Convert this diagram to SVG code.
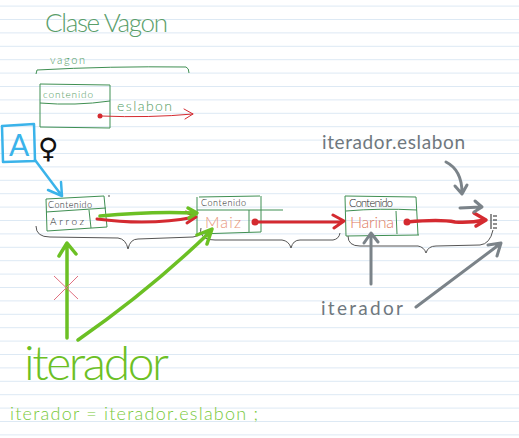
<svg xmlns="http://www.w3.org/2000/svg" width="519" height="438" viewBox="0 0 519 438">
<style>
.ln{stroke:#dde9f4;stroke-width:1}
.t{font-family:"Lato","Open Sans","Liberation Sans",Arial,sans-serif;font-weight:300}
.gb{fill:none;stroke:#3f8f52;stroke-width:1}
.red{fill:none;stroke:#d42a30;stroke-linecap:round;stroke-linejoin:round}
.blue{fill:none;stroke:#3ab3ea;stroke-width:2.5;stroke-linecap:round;stroke-linejoin:round}
.gray{fill:none;stroke:#7b8389;stroke-width:3;stroke-linecap:round;stroke-linejoin:round}
.lg{fill:none;stroke:#6cc024;stroke-width:3.5;stroke-linecap:round;stroke-linejoin:round}
.br{fill:none;stroke:#555;stroke-width:1}
</style>
<rect width="519" height="438" fill="#ffffff"/>
<g id="paper">
<path class="ln" d="M0,6.1H519M0,19.5H519M0,32.9H519M0,46.3H519M0,59.7H519M0,73.1H519M0,86.5H519M0,99.9H519M0,113.3H519M0,126.7H519M0,140.1H519M0,153.5H519M0,166.9H519M0,180.3H519M0,193.7H519M0,207.1H519M0,220.5H519M0,233.9H519M0,247.3H519M0,260.7H519M0,274.1H519M0,287.5H519M0,300.9H519M0,314.3H519M0,327.7H519M0,341.1H519M0,354.5H519M0,367.9H519M0,381.3H519M0,394.7H519M0,408.1H519M0,421.5H519M0,434.9H519"/>
</g>
<g id="title">
<text class="t" x="45" y="32" font-size="26" fill="#5a9e6a" textLength="123" lengthAdjust="spacing">Clase Vagon</text>
</g>
<g id="clase-vagon">
<text class="t" x="50" y="64" font-size="11" fill="#4f9a60" textLength="35" lengthAdjust="spacing">vagon</text>
<path class="gb" d="M36,74 L37,70 Q110,66 186,67 Q189,68 189,73"/>
<path class="gb" d="M40,84 L110,85 L110,128 L40,127 Z"/>
<path class="gb" d="M40,103 Q75,106 110,101"/>
<text class="t" x="43" y="98" font-size="10" fill="#4f9a60" textLength="50" lengthAdjust="spacing">contenido</text>
<text class="t" x="117" y="111" font-size="14" fill="#4f9a60" textLength="55" lengthAdjust="spacing">eslabon</text>
</g>
<g id="A">
<path class="blue" d="M2,126 L34,124 L35,161 L3,162 Z"/>
<text class="t" x="9" y="156" font-size="30" fill="#3ab3ea" style="font-weight:400">A</text>
<text x="38" y="158" font-size="28" fill="#111" font-family="'DejaVu Sans',sans-serif">♀</text>
</g>
<g id="nodo-arroz">
<path class="gb" d="M46,199 L104,196 L107,227 L47,231 Z"/>
<path class="gb" d="M46,212 L106,208 M89,210 L91,228"/>
<circle cx="109" cy="196" r="0.8" fill="#333"/>
<text class="t" x="48" y="208" font-size="9" fill="#222" textLength="44" lengthAdjust="spacing">Contenido</text>
<text class="t" x="50" y="225" font-size="10" fill="#222" textLength="34" lengthAdjust="spacing">Arroz</text>
</g>
<g id="nodo-maiz">
<path class="gb" d="M199,197 L260,196 M197,210 L283,210 M197,197 L197,234 L261,232 M261,196 L261,232 M249,210 L249,232"/>
<text class="t" x="201" y="206" font-size="9" fill="#222" textLength="45" lengthAdjust="spacing">Contenido</text>
<text class="t" x="205" y="228" font-size="16" fill="#e8967a" textLength="36" lengthAdjust="spacing">Maiz</text>
</g>
<g id="nodo-harina">
<path class="gb" d="M345,196 L416,197 M346,211 Q380,208 417,210 M345,196 L346,236 L419,235 M416,197 L418,235 M396,211 L397,234"/>
<text class="t" x="349" y="207" font-size="11" fill="#222" textLength="44" lengthAdjust="spacing">Contenido</text>
<text class="t" x="350" y="228" font-size="16" fill="#e07a5f" textLength="44" lengthAdjust="spacing">Harina</text>
</g>
<g id="null">
<path fill="none" stroke="#222" stroke-width="1" d="M491,214 L491,229 M493,216 L497,216 M493,220 L497,220 M493,224 L497,224 M493,228 L497,228"/>
</g>
<g id="braces">
<path class="br" d="M36,226 Q36,237 50,237 L118,238 Q126,239 128,249 Q130,239 138,239 L193,237 Q201,236 201,228"/>
<path class="br" d="M201,233 Q203,240 215,240 L282,240 Q289,241 291,248 Q293,240 300,240 L333,240 Q339,239 340,233"/>
<path class="br" d="M348,236 Q348,246 360,246 L418,246 Q424,247 426,253 Q428,246 436,246 L480,245 Q490,244 493,230"/>
</g>
<g id="labels">
<text class="t" x="322" y="149" font-size="19" fill="#6f787e" textLength="143" lengthAdjust="spacing" style="font-weight:400">iterador.eslabon</text>
<text class="t" x="321" y="315" font-size="19" fill="#6f787e" textLength="82" lengthAdjust="spacing" style="font-weight:400">iterador</text>
<text class="t" x="24" y="380" font-size="48" fill="#6cc024" textLength="145" lengthAdjust="spacing">iterador</text>
<text class="t" x="10" y="420" font-size="18" fill="#78c93a" textLength="248" lengthAdjust="spacing">iterador = iterador.eslabon ;</text>
</g>
<g id="connectors">
<circle cx="100" cy="116" r="2.5" fill="#d42a30"/>
<path class="red" stroke-width="1" d="M100,116 Q150,118 193,114 M184,109 L193,114 L185,119"/>
<path class="blue" d="M35,160 L62,196 M48,190 L62,196 L61,182"/>
<path class="red" stroke-width="3" d="M97,219 Q150,226 195,217 M186,212 L196,217 L187,223"/>
<path class="lg" stroke-width="3" d="M100,216 Q150,211 196,213 M188,208 L197,213 L189,218"/>
<circle cx="255" cy="222" r="3.5" fill="#d42a30"/>
<path class="red" stroke-width="3" d="M255,222 L342,222 M333,215 L344,221 L334,228"/>
<circle cx="407" cy="222" r="3.5" fill="#d42a30"/>
<path class="red" stroke-width="3.5" d="M407,222 Q440,219 455,222 Q470,223 485,220 M474,213 L486,220 L476,226"/>
<path class="gray" d="M446,162 Q462,170 462,193 M455,186 L462,194 L467,185"/>
<path class="gray" d="M460,208 L481,207 M475,201 L482,207 L474,212"/>
<path class="gray" d="M371,284 L371,234 M364,243 L371,233 L378,242"/>
<path class="gray" d="M416,307 L500,244 M488,245 L501,243 L497,256"/>
<path class="lg" d="M67,338 L67,244 M59,256 L67,243 L76,254"/>
<path class="lg" d="M78,340 Q150,290 211,231 M197,235 L212,229 L207,244"/>
<path fill="none" stroke="#e07080" stroke-width="1" d="M54,276 L78,299 M78,276 L54,300"/>
</g>
</svg>
